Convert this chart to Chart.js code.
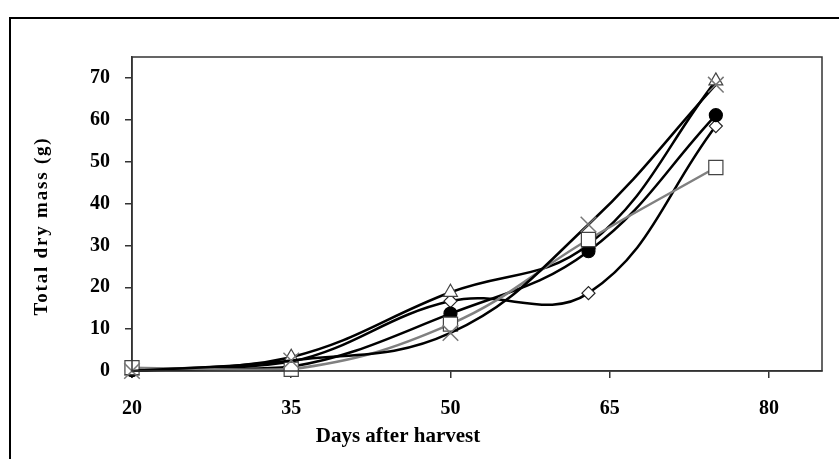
<!DOCTYPE html>
<html>
<head>
<meta charset="utf-8">
<script src="https://cdn.jsdelivr.net/npm/chart.js@4"></script>
<style>
  body { margin: 0; background: #fff; }
  #wrap { position: relative; width: 839px; height: 459px; }
  #frame { position: absolute; left: 9px; top: 17px; width: 900px; height: 500px;
           border-left: 2px solid #000; border-top: 2px solid #000; pointer-events: none; }
</style>
</head>
<body>
<div id="wrap">
  <canvas id="massChart" width="839" height="459"></canvas>
  <div id="frame"></div>
</div>
<script>
// days after harvest at which plants were sampled
const days = [20, 35, 50, 63, 75]

// total dry mass (g) for each treatment
const diamondMass = [0, 2.2, 16.7, 18.6, 58.5]
const circleMass = [0.2, 1.0, 13.7, 28.6, 61.1]
const squareMass = [0.8, 0.4, 11.2, 31.4, 48.6]
const triangleMass = [0, 3.3, 18.8, 30.2, 69.3]
const crossMass = [0, 2.5, 9.1, 35.0, 68.4]

const xTicks = [20, 35, 50, 65, 80]
const yTicks = [0, 10, 20, 30, 40, 50, 60, 70]

const font = 'Liberation Serif, Times New Roman, serif'

function toPoints(values) {
    return days.map((d, i) => ({ x: d, y: values[i] }))
}

function series(label, values, style, extra) {
    return Object.assign({
        label: label,
        data: toPoints(values),
        borderColor: '#000',
        borderWidth: 2.5,
        tension: 0.4,
        clip: false,
        pointStyle: style,
        pointBackgroundColor: '#fff',
        pointBorderColor: '#222',
        pointBorderWidth: 1.2,
        pointRadius: 6.5
    }, extra || {})
}

//box round the plot area plus the two axis titles
const framePlugin = {
    id: 'framePlugin',
    afterDraw(chart) {
        const ctx = chart.ctx
        const a = chart.chartArea
        ctx.save()
        ctx.strokeStyle = '#333'
        ctx.lineWidth = 1.5
        ctx.strokeRect(a.left, a.top, a.right - a.left, a.bottom - a.top)

        ctx.fillStyle = '#000'
        ctx.font = 'bold 21px ' + font
        ctx.textAlign = 'center'
        ctx.textBaseline = 'middle'
        ctx.fillText('Days after harvest', 398, 437)

        ctx.translate(42, 226)
        ctx.rotate(-Math.PI / 2)
        ctx.font = 'bold 19px ' + font
        ctx.letterSpacing = '1.8px'
        ctx.fillText('Total dry mass (g)', 0, 0)
        ctx.restore()
    }
}

const ctx = document.getElementById('massChart')
new Chart(ctx, {
    type: 'line',
    data: {
        datasets: [
            series('Cross', crossMass, 'crossRot', { pointBorderColor: '#777', pointBorderWidth: 1.5, pointRadius: 11 }),
            series('Square', squareMass, 'rect', { borderColor: '#808080', pointBorderColor: '#444', pointRadius: 10 }),
            series('Circle', circleMass, 'circle', { pointBackgroundColor: '#000', pointBorderColor: '#000' }),
            series('Triangle', triangleMass, 'triangle', { pointRadius: 8, pointBorderColor: '#444' }),
            series('Diamond', diamondMass, 'rectRot', { pointRadius: 6.5 })
        ]
    },
    options: {
        responsive: false,
        animation: false,
        layout: { padding: { left: 75, top: 57, right: 17, bottom: 19 } },
        plugins: { legend: { display: false }, tooltip: { enabled: false } },
        scales: {
            x: {
                type: 'linear',
                min: 20,
                max: 85,
                afterBuildTicks: axis => { axis.ticks = xTicks.map(v => ({ value: v })) },
                ticks: { font: { family: font, size: 20, weight: 'bold' }, color: '#000', padding: 19, maxRotation: 0 },
                grid: { drawOnChartArea: false, tickLength: 7, color: '#333', lineWidth: 1.5 },
                border: { color: '#333', width: 1.5 }
            },
            y: {
                min: 0,
                max: 75,
                afterBuildTicks: axis => { axis.ticks = yTicks.map(v => ({ value: v })) },
                ticks: { font: { family: font, size: 20, weight: 'bold' }, color: '#000', padding: 15 },
                grid: { drawOnChartArea: false, tickLength: 7, color: '#333', lineWidth: 1.5 },
                border: { color: '#333', width: 1.5 }
            }
        }
    },
    plugins: [framePlugin]
})
</script>
</body>
</html>
